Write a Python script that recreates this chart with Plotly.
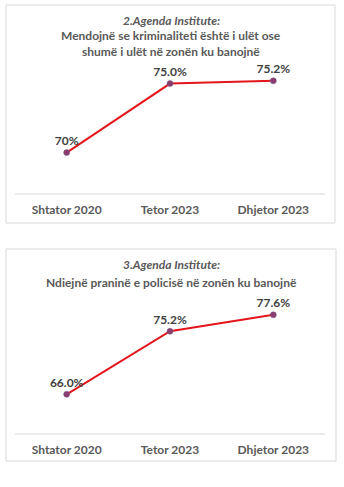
import plotly.graph_objects as go

H, W = 487, 344

periods = ["Shtator 2020", "Tetor 2023", "Dhjetor 2023"]
crime_low = [70.0, 75.0, 75.2]
crime_labels = ["70%", "75.0%", "75.2%"]
police_presence = [66.0, 75.2, 77.6]
police_labels = ["66.0%", "75.2%", "77.6%"]

FONT = "Lato"
GREY = "#595959"
LINE = "#e3161b"
MARK = "#8e3b6d"


def py(px):
    return (H - px) / H


def px_x(px):
    return px / W


fig = go.Figure()

for vals, labels, ax in [(crime_low, crime_labels, ""), (police_presence, police_labels, "2")]:
    fig.add_trace(go.Scatter(
        x=periods, y=vals, mode="lines+markers+text",
        text=labels, textposition="top center",
        textfont=dict(family=FONT, size=12, color="#404040", weight="bold"),
        line=dict(color=LINE, width=2),
        marker=dict(color=MARK, size=6, line=dict(color="#6a5a8a", width=0.5)),
        xaxis="x" + ax, yaxis="y" + ax, showlegend=False, cliponaxis=False,
    ))

xcommon = dict(
    type="category", range=[-0.5, 2.5], domain=[px_x(15), px_x(325)],
    showgrid=False, zeroline=False, showline=False, ticks="",
    tickfont=dict(family=FONT, size=12, color=GREY, weight="bold"),
    ticklabelstandoff=7,
    fixedrange=True,
)
ycommon = dict(showgrid=False, zeroline=False, showline=False,
               showticklabels=False, ticks="", fixedrange=True)

fig.update_layout(
    width=W, height=H, margin=dict(l=0, r=0, t=0, b=0),
    paper_bgcolor="white", plot_bgcolor="white",
    xaxis=dict(xcommon, anchor="y"),
    yaxis=dict(ycommon, range=[67, 76], domain=[py(194), py(69.8)], anchor="x"),
    xaxis2=dict(xcommon, anchor="y2"),
    yaxis2=dict(ycommon, range=[60.2, 80], domain=[py(434), py(298.4)], anchor="x2"),
)

shapes = []
# chart frames
for (x0, y0, x1, y1) in [(6, 5, 335, 223), (6, 249, 336, 461)]:
    shapes.append(dict(type="rect", xref="paper", yref="paper",
                       x0=px_x(x0), x1=px_x(x1), y0=py(y0), y1=py(y1),
                       line=dict(color="#d9d9d9", width=1), fillcolor="rgba(0,0,0,0)"))
# category axis baselines
for ypx in [194, 434]:
    shapes.append(dict(type="line", xref="paper", yref="paper",
                       x0=px_x(15), x1=px_x(325), y0=py(ypx), y1=py(ypx),
                       line=dict(color="#d9d9d9", width=1)))
fig.update_layout(shapes=shapes)

titles = [
    (20, "<b><i>2.Agenda Institute:</i></b>"),
    (36, "<b>Mendojnë se kriminaliteti është i ulët ose</b>"),
    (51, "<b>shumë i ulët në zonën ku banojnë</b>"),
    (264, "<b><i>3.Agenda Institute:</i></b>"),
    (282, "<b>Ndiejnë praninë e policisë në zonën ku banojnë</b>"),
]
for ypx, txt in titles:
    fig.add_annotation(text=txt, xref="paper", yref="paper", x=px_x(171), y=py(ypx),
                       xanchor="center", yanchor="middle", showarrow=False,
                       font=dict(family=FONT, size=12, color=GREY))

fig.write_html("out.html")
